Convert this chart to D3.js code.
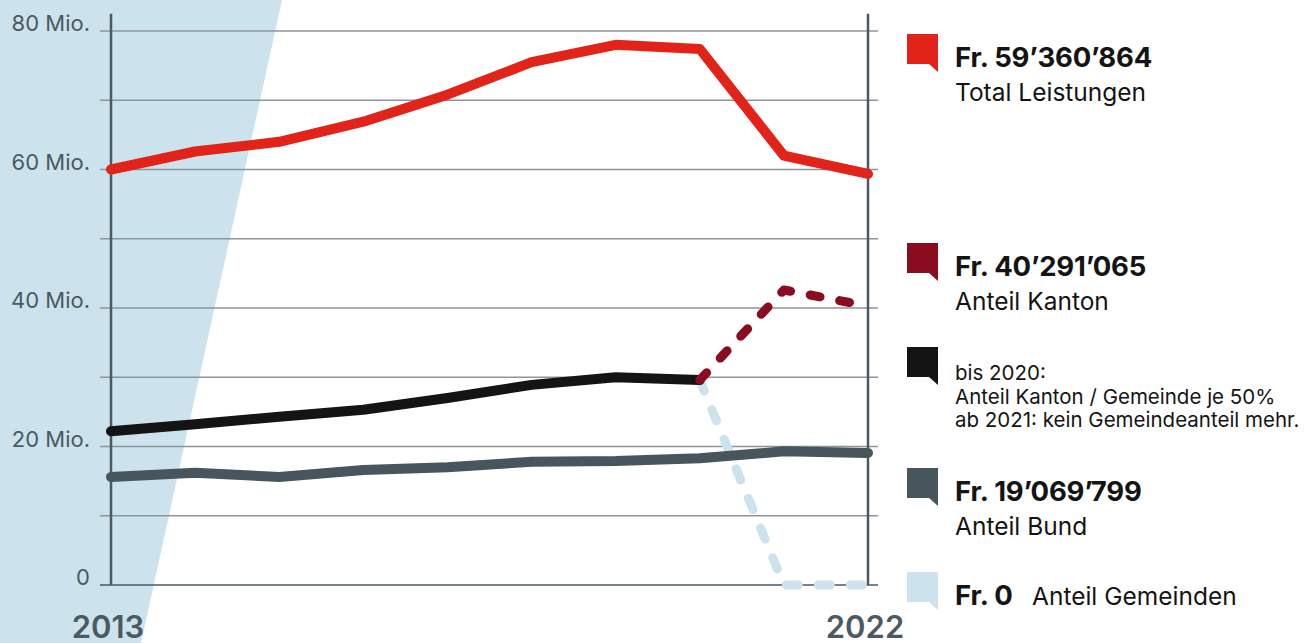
<!DOCTYPE html>
<html lang="de">
<head>
<meta charset="UTF-8">
<title>Leistungen 2013–2022</title>
<script src="https://d3js.org/d3.v7.min.js"></script>
<style>
  body { margin: 0; background: #fff; }
  svg { display: block; font-family: Inter, "Noto Sans", sans-serif; }
  .tick-label { font-size: 22px; fill: #4a5a60; }
  .year-label { font-size: 31px; font-weight: 600; fill: #4a5a60; }
  .leg-big { font-size: 27.5px; font-weight: 700; fill: #141414; letter-spacing: -0.2px; }
  .leg-small { font-size: 24.5px; fill: #141414; }
  .leg-note { font-size: 20.5px; fill: #141414; }
</style>
</head>
<body>
<svg width="1316" height="643"></svg>
<script>
// data (Mio. Fr.)
const years = [2013, 2014, 2015, 2016, 2017, 2018, 2019, 2020, 2021, 2022];
const total = [60.0, 62.6, 64.0, 66.9, 70.8, 75.5, 78.0, 77.4, 62.0, 59.36];
const bund = [15.6, 16.2, 15.6, 16.6, 17.0, 17.8, 17.9, 18.3, 19.3, 19.07];
// bis 2020: Kanton und Gemeinden je 50%
const kantonGemeinde = [22.2, 23.2, 24.3, 25.3, 27.0, 28.9, 30.0, 29.6];
const kantonAb2020 = [29.6, 42.6, 40.29];
const gemeindenAb2020 = [29.6, 0, 0];
const gridValues = [0, 10, 20, 30, 40, 50, 60, 70, 80];
const labelValues = [0, 20, 40, 60, 80];

const svg = d3.select("svg");

const x = d3.scaleLinear().domain([2013, 2022]).range([111, 868]);
const y = d3.scaleLinear().domain([0, 80]).range([585, 31]);

// background band
svg.append("path")
    .attr("d", `M0,0 H282 L141,643 H0 Z`)
    .attr("fill", "#cce2ec");

// grid
svg.append("g").selectAll("line")
    .data(gridValues)
    .join("line")
    .attr("x1", 100).attr("x2", 878)
    .attr("y1", d => y(d)).attr("y2", d => y(d))
    .attr("stroke", d => d === 0 ? "#4a5a60" : "#8c9599")
    .attr("stroke-width", 1.5);

svg.append("g").selectAll("text")
    .data(labelValues)
    .join("text")
    .attr("class", "tick-label")
    .attr("x", 90)
    .attr("y", d => y(d))
    .attr("text-anchor", "end")
    .text(d => d === 0 ? "0" : d + " Mio.");

// vertical year axes
[2013, 2022].forEach(yr => {
    svg.append("line")
        .attr("x1", x(yr)).attr("x2", x(yr))
        .attr("y1", y(82.5)).attr("y2", y(0))
        .attr("stroke", "#4a5a60")
        .attr("stroke-width", 2.5);
    svg.append("text")
        .attr("class", "year-label")
        .attr("x", x(yr) - 3)
        .attr("y", 638)
        .attr("text-anchor", "middle")
        .text(yr);
});

const line = d3.line()
    .x(d => x(d[0]))
    .y(d => y(d[1]));

function draw(yrs, vals, color, dash) {
    svg.append("path")
        .datum(yrs.map((yr, i) => [yr, vals[i]]))
        .attr("d", line)
        .attr("fill", "none")
        .attr("stroke", color)
        .attr("stroke-width", dash ? 9 : 10)
        .attr("stroke-linecap", "round")
        .attr("stroke-linejoin", "round")
        .attr("stroke-dasharray", dash || null);
}

draw(years.slice(7), gemeindenAb2020, "#cce2ec", "12,20");
draw(years, bund, "#47555c");
draw(years.slice(0, 8), kantonGemeinde, "#141414");
draw(years.slice(7), kantonAb2020, "#8b0c1f", "10,20");
draw(years, total, "#e2231a");

// legend
const legend = [
    {top: 34, color: "#e2231a", big: "Fr. 59’360’864", small: "Total Leistungen"},
    {top: 243, color: "#8b0c1f", big: "Fr. 40’291’065", small: "Anteil Kanton"},
    {top: 347, color: "#141414", note: ["bis 2020:", "Anteil Kanton / Gemeinde je 50%", "ab 2021: kein Gemeindeanteil mehr."]},
    {top: 468, color: "#47555c", big: "Fr. 19’069’799", small: "Anteil Bund"},
    {top: 572, color: "#cce2ec", big: "Fr. 0", inline: "Anteil Gemeinden"}
];

legend.forEach(d => {
    const g = svg.append("g").attr("transform", `translate(907,${d.top})`);
    g.append("path")
        .attr("d", "M0,0 H31 V38 L22,30 H0 Z")
        .attr("fill", d.color);
    if (d.note) {
        d.note.forEach((t, i) => {
            g.append("text").attr("class", "leg-note")
                .attr("x", 48).attr("y", 33 + i * 23.5).text(t);
        });
    } else if (d.inline) {
        g.append("text").attr("class", "leg-big").attr("x", 48).attr("y", 33).text(d.big);
        g.append("text").attr("class", "leg-small").attr("x", 125).attr("y", 33).text(d.inline);
    } else {
        g.append("text").attr("class", "leg-big").attr("x", 48).attr("y", 33).text(d.big);
        g.append("text").attr("class", "leg-small").attr("x", 48).attr("y", 67).text(d.small);
    }
});
</script>
</body>
</html>
